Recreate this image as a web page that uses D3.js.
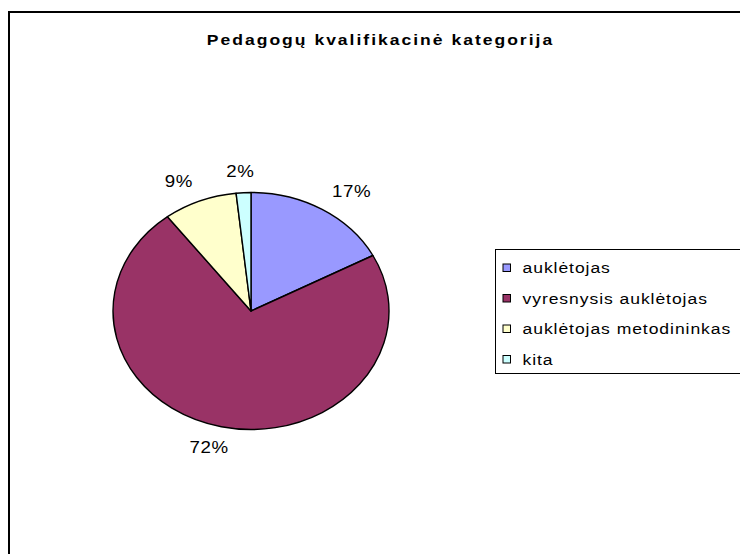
<!DOCTYPE html>
<html>
<head>
<meta charset="utf-8">
<script src="https://cdn.jsdelivr.net/npm/d3@7"></script>
<style>
  body { margin: 0; background: #fff; }
  text { font-family: "Liberation Sans", Arial, sans-serif; fill: #000; }
</style>
</head>
<body>
<svg id="chart"></svg>
<script>
// Data (number of pedagogues per category)
const categories = ["auklėtojas", "vyresnysis auklėtojas", "auklėtojas metodininkas", "kita"];
const values = [10, 42, 5, 1];
const colors = ["#9999ff", "#993366", "#ffffcc", "#ccffff"];
const title = "Pedagogų kvalifikacinė kategorija";

// Dimensions of the SVG
const width = 740;
const height = 554;

// Pie geometry (the pie is a bit stretched horizontally, like the original)
const cx = 251, cy = 311;
const ry = 118.5;
const rx = 138;
const stretch = 1.17; // horizontal stretch of the texts

const svg = d3.select("#chart")
  .attr("width", width)
  .attr("height", height);

// Chart frame (right and bottom edges are outside of the picture)
svg.append("rect")
  .attr("x", 9)
  .attr("y", 12)
  .attr("width", 800)
  .attr("height", 600)
  .attr("fill", "#fff")
  .attr("stroke", "#000")
  .attr("stroke-width", 2);

// Title
svg.append("text")
  .attr("transform", `translate(380.5, 44.5) scale(${stretch}, 1)`)
  .attr("text-anchor", "middle")
  .attr("font-size", "15px")
  .attr("font-weight", "bold")
  .attr("letter-spacing", "1.7px")
  .text(title);

drawPie();
drawLegend();


// Draw the slices and their percentage labels
function drawPie () {
  const total = d3.sum(values);
  const pct = d3.format(".0%");

  const pie = d3.pie()
    .sort(null)
    .value((d) => d);
  const arcs = pie(values);

  const arc = d3.arc()
    .innerRadius(0)
    .outerRadius(ry);

  const g = svg.append("g")
    .attr("transform", `translate(${cx}, ${cy}) scale(${rx / ry}, 1)`);

  g.selectAll("path")
    .data(arcs)
    .enter()
    .append("path")
    .attr("d", arc)
    .attr("fill", (d, i) => colors[i])
    .attr("stroke", "#000")
    .attr("stroke-width", 1.4)
    .attr("stroke-linejoin", "round")
    .attr("vector-effect", "non-scaling-stroke");

  // labels sit on a larger ellipse, outside of the slices
  const labelRx = 195, labelRy = 140;
  svg.selectAll("text.pct")
    .data(arcs)
    .enter()
    .append("text")
    .attr("class", "pct")
    .attr("transform", (d) => {
      const a = (d.startAngle + d.endAngle) / 2;
      const x = cx + labelRx * Math.sin(a);
      const y = cy - labelRy * Math.cos(a);
      return `translate(${x}, ${y}) scale(${stretch}, 1)`;
    })
    .attr("text-anchor", "middle")
    .attr("dy", "0.35em")
    .attr("font-size", "16px")
    .attr("letter-spacing", "0.5px")
    .text((d) => pct(d.value / total));
}


// Draw the legend (color + name of the category)
function drawLegend () {
  const legend = svg.append("g")
    .attr("class", "legend");

  legend.append("rect")
    .attr("x", 495.5)
    .attr("y", 249.5)
    .attr("width", 300)
    .attr("height", 124)
    .attr("fill", "#fff")
    .attr("stroke", "#000")
    .attr("stroke-width", 1);

  const y = d3.scalePoint()
    .domain(categories)
    .range([268, 359.5]);

  legend.selectAll("rect.key")
    .data(categories)
    .enter()
    .append("rect")
    .attr("class", "key")
    .attr("x", 503)
    .attr("y", (d) => y(d) - 4)
    .attr("width", 7.5)
    .attr("height", 7.5)
    .attr("fill", (d, i) => colors[i])
    .attr("stroke", "#000")
    .attr("stroke-width", 1);

  legend.selectAll("text")
    .data(categories)
    .enter()
    .append("text")
    .attr("transform", (d) => `translate(522.5, ${y(d)}) scale(${stretch}, 1)`)
    .attr("dy", "0.35em")
    .attr("font-size", "15px")
    .attr("letter-spacing", "0.8px")
    .text((d) => d);
}
</script>
</body>
</html>
